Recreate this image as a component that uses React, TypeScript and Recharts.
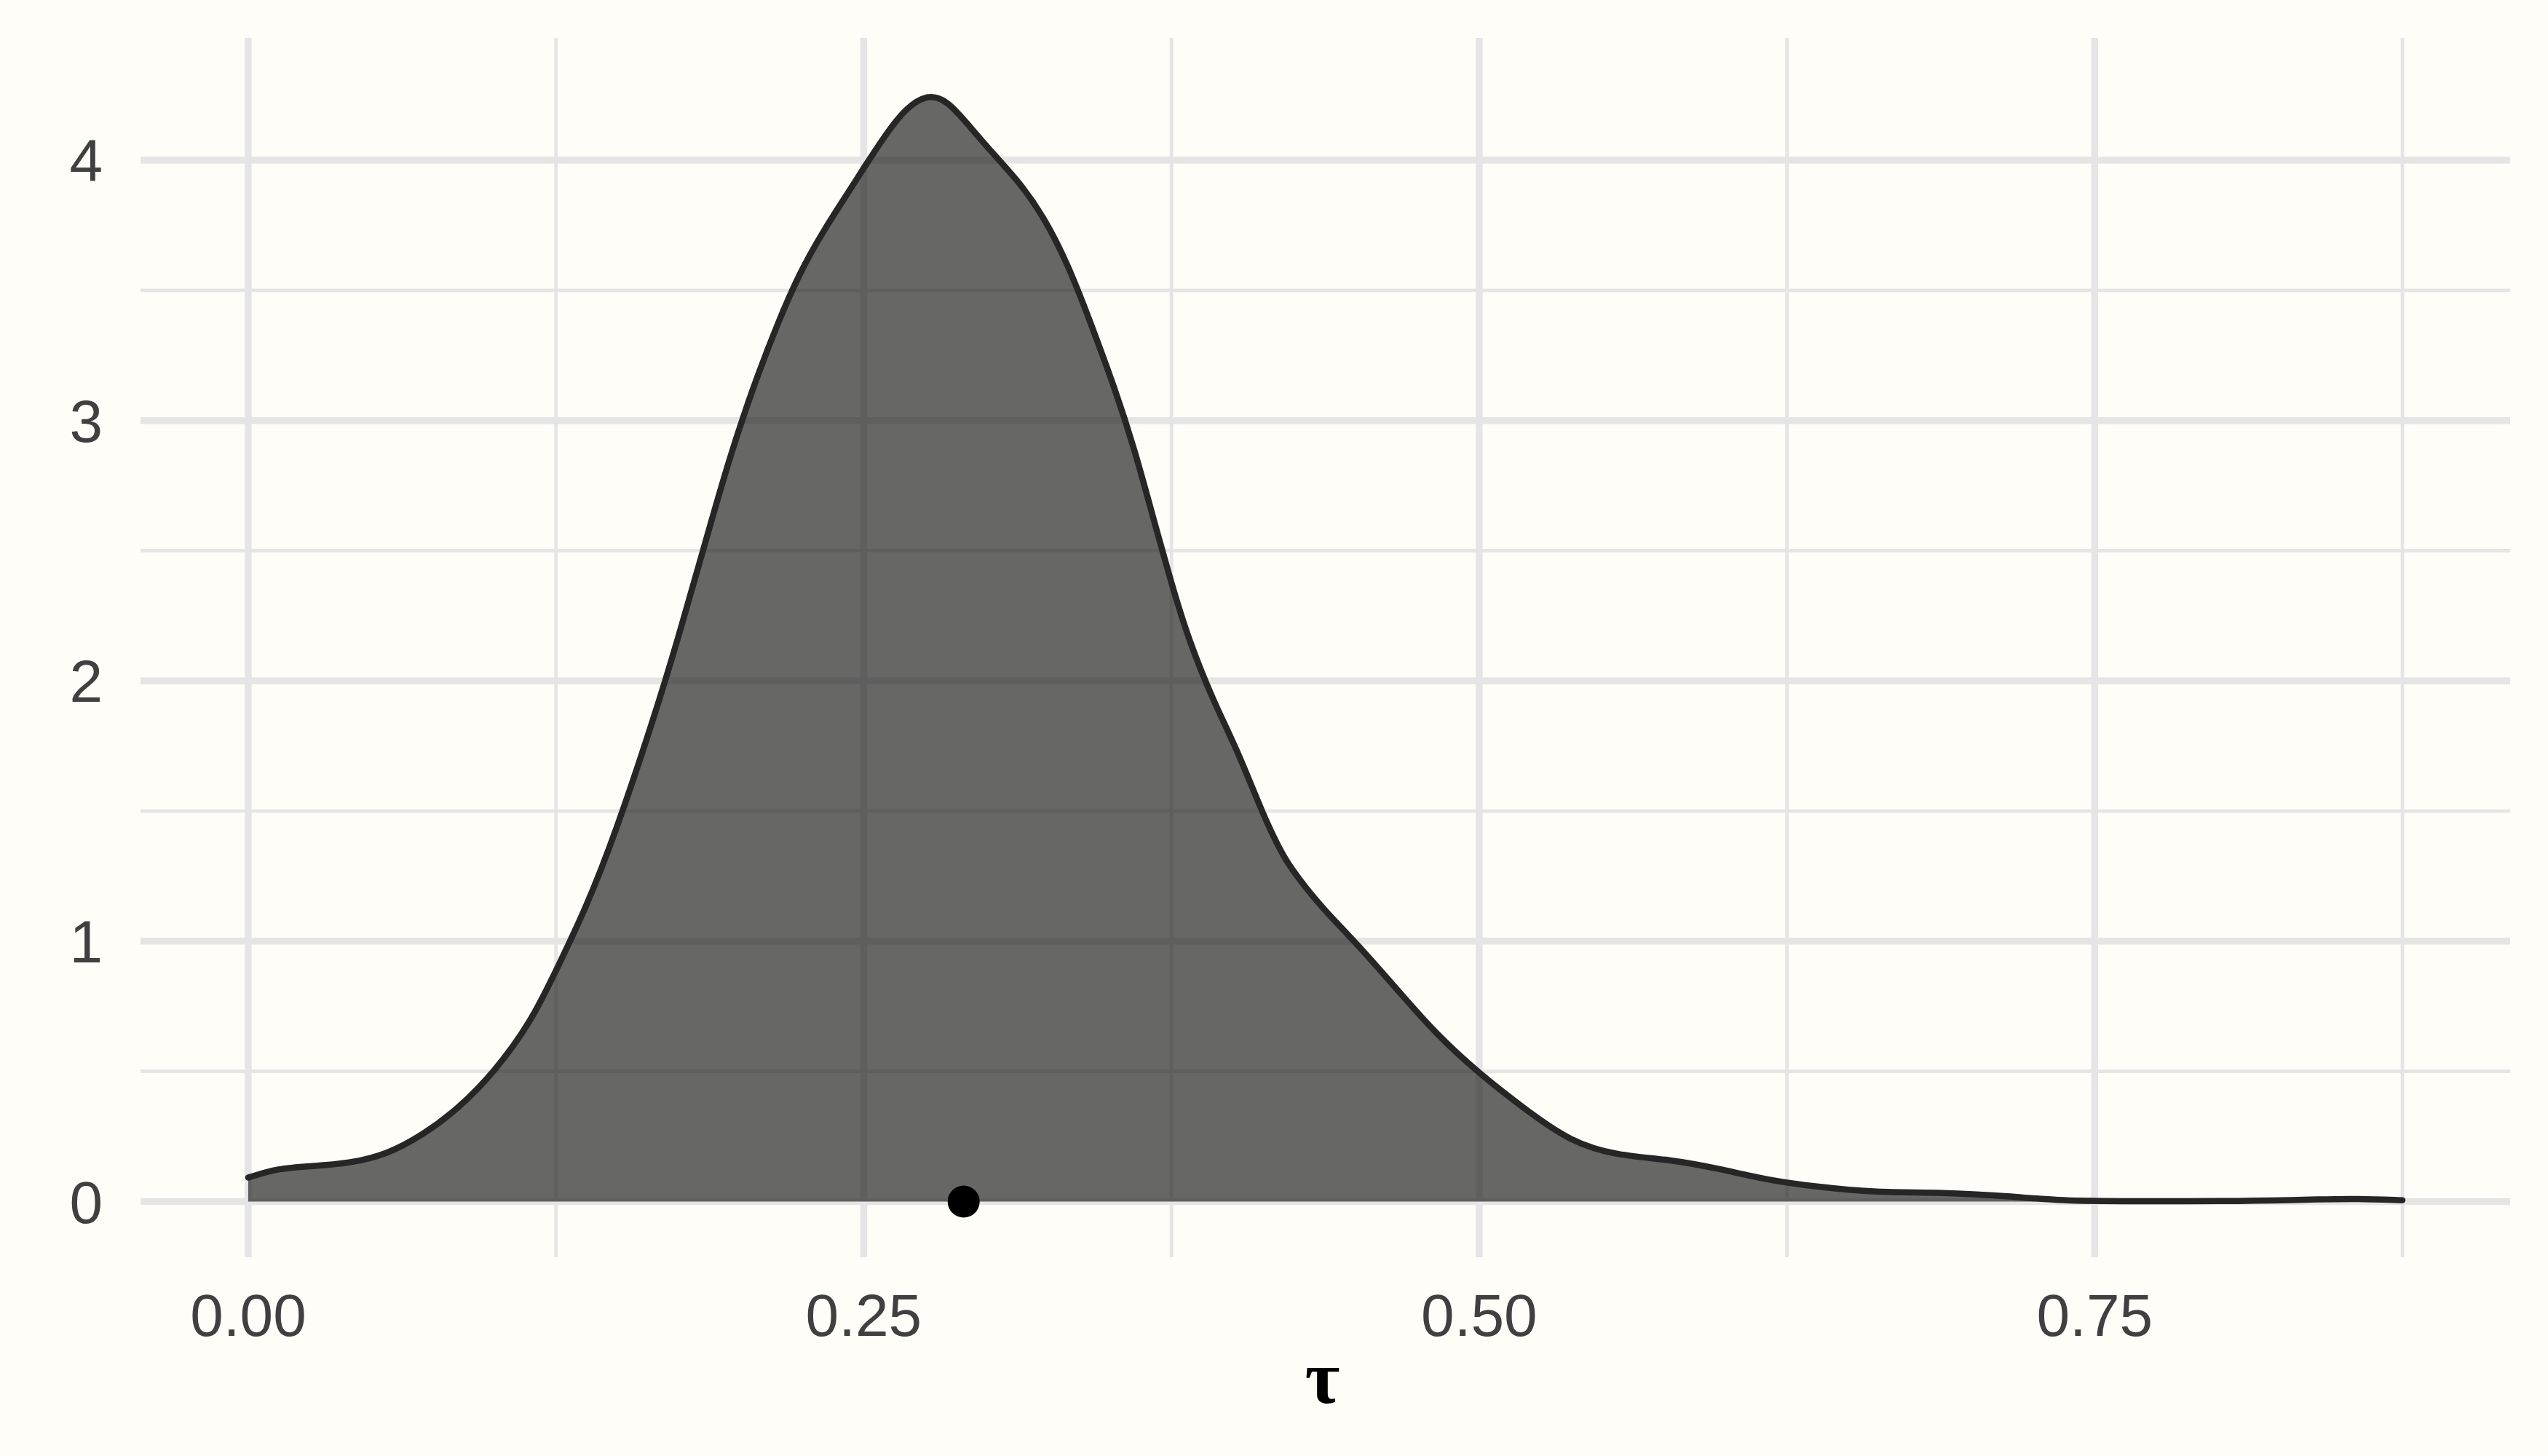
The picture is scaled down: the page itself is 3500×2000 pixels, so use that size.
import { ComposedChart, Area, Scatter, XAxis, YAxis, CartesianGrid } from 'recharts';

// posterior density of tau
const TAU = [
  0, 0.012, 0.026, 0.041, 0.056, 0.071, 0.085, 0.1, 0.115, 0.125,
  0.137, 0.149, 0.165, 0.175, 0.185, 0.195, 0.205, 0.215, 0.224, 0.234,
  0.244, 0.25, 0.259, 0.267, 0.276, 0.284, 0.293, 0.303, 0.313, 0.323,
  0.333, 0.342, 0.352, 0.36, 0.367, 0.375, 0.382, 0.392, 0.402, 0.412,
  0.421, 0.43, 0.438, 0.45, 0.468, 0.482, 0.5, 0.519, 0.537, 0.556,
  0.578, 0.598, 0.618, 0.637, 0.661, 0.688, 0.716, 0.735, 0.755, 0.813,
  0.843, 0.856, 0.875,
];
const DENSITY = [
  0.092, 0.128, 0.136, 0.147, 0.179, 0.256, 0.354, 0.497, 0.692, 0.887,
  1.123, 1.41, 1.863, 2.176, 2.51, 2.843, 3.127, 3.373, 3.569, 3.735,
  3.88, 3.97, 4.1, 4.2, 4.255, 4.23, 4.13, 4.02, 3.918, 3.786,
  3.6, 3.38, 3.124, 2.89, 2.647, 2.373, 2.157, 1.922, 1.73, 1.49,
  1.31, 1.2, 1.11, 0.994, 0.8, 0.648, 0.491, 0.352, 0.23, 0.176,
  0.162, 0.125, 0.081, 0.057, 0.034, 0.036, 0.02, 0.004, 0.001, 0.001,
  0.009, 0.011, 0.005,
];

// point estimate marked on the baseline
const POINT_TAU = [0.2906];
const POINT_DENSITY = [0];

const X_TICKS = [0, 0.25, 0.5, 0.75];
const X_MINOR = [0.125, 0.375, 0.625, 0.875];
const Y_TICKS = [0, 1, 2, 3, 4];
const Y_MINOR = [0.5, 1.5, 2.5, 3.5];

const densityData = TAU.map((t, i) => ({ tau: t, density: DENSITY[i] }));
const pointData = POINT_TAU.map((t, i) => ({ tau: t, density: POINT_DENSITY[i] }));

const BG = '#FEFDF8';
const GRID = '#E5E5E5';
const TEXT = '#404040';
const INK = '#262626';

const tickStyle = { fontSize: 82, fill: TEXT, fontFamily: '"Liberation Sans", Arial, sans-serif' };

const renderTau = (props: any) => {
  const vb = props.viewBox;
  return (
    <text
      x={vb.x + vb.width / 2 - 4}
      y={vb.y + 200}
      textAnchor="middle"
      fontSize={104}
      fontWeight="bold"
      fontFamily='"Liberation Serif", "Times New Roman", serif'
      fill="#000"
    >
      τ
    </text>
  );
};

export default function App() {
  return (
    <div style={{ position: 'absolute', left: 0, top: 0, width: 3500, height: 2000, background: BG }}>
      <ComposedChart
        width={3500}
        height={2000}
        data={densityData}
        margin={{ top: 52, right: 52, bottom: 0, left: 0 }}
      >
        <CartesianGrid
          stroke={GRID}
          strokeWidth={4.8}
          horizontalValues={Y_MINOR}
          verticalValues={X_MINOR}
          syncWithTicks
        />
        <CartesianGrid stroke={GRID} strokeWidth={9.5} syncWithTicks />
        <XAxis
          dataKey="tau"
          type="number"
          domain={[-0.04375, 0.91875]}
          ticks={X_TICKS}
          allowDataOverflow
          tickFormatter={(v: number) => v.toFixed(2)}
          tick={tickStyle}
          tickLine={false}
          axisLine={false}
          tickSize={0}
          tickMargin={50}
          height={273}
          label={{ value: 'τ', content: renderTau }}
        />
        <YAxis
          type="number"
          domain={[-0.214, 4.47]}
          ticks={Y_TICKS}
          allowDataOverflow
          tick={tickStyle}
          tickLine={false}
          axisLine={false}
          tickSize={0}
          tickMargin={52}
          width={193}
        />
        <Area
          type="basis"
          dataKey="density"
          baseValue={0}
          fill={INK}
          fillOpacity={0.7}
          stroke={INK}
          strokeWidth={8.5}
          strokeLinecap="round"
          dot={false}
          activeDot={false}
          isAnimationActive={false}
        />
        <Scatter
          data={pointData}
          dataKey="density"
          fill="#000"
          isAnimationActive={false}
          shape={(p: any) => <circle cx={p.cx} cy={p.cy} r={22} fill="#000" />}
        />
      </ComposedChart>
    </div>
  );
}
